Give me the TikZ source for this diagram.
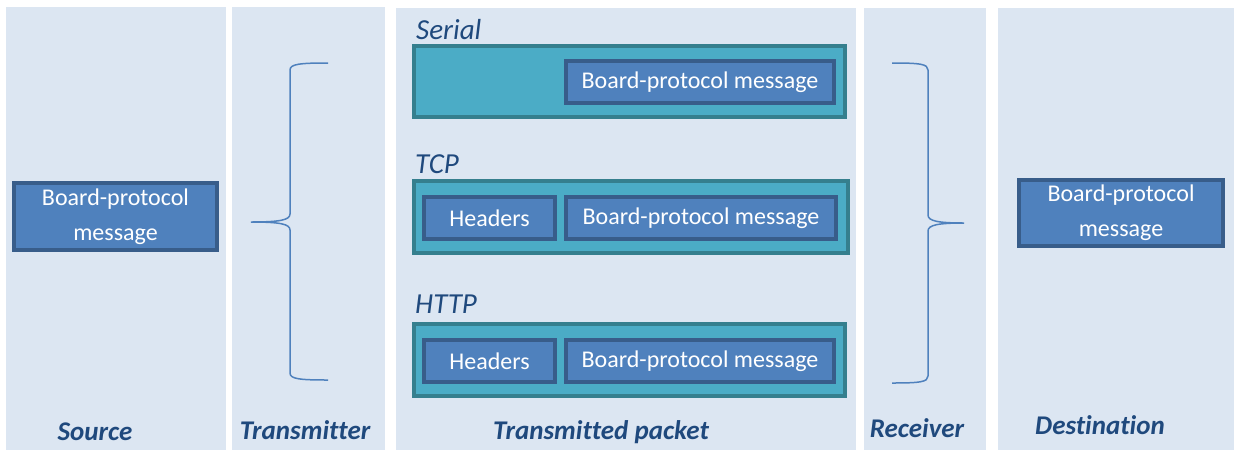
\documentclass[tikz,border=0pt]{standalone}
\usepackage{fontspec}
\setmainfont{Carlito}[Ligatures=NoCommon]
\usepackage{xcolor}
\usetikzlibrary{positioning}

\definecolor{colbg}{HTML}{DCE6F2}
\definecolor{msgfill}{HTML}{4F81BD}
\definecolor{msgline}{HTML}{385D8A}
\definecolor{pktfill}{HTML}{4BACC6}
\definecolor{pktline}{HTML}{357F8E}
\definecolor{lbltext}{HTML}{1F497D}

\tikzset{
  column/.style={fill=colbg, draw=none},
  msgbox/.style={draw=msgline, fill=msgfill, line width=4pt, inner sep=0pt,
    text=white, align=center, font=\fontsize{24}{35}\selectfont},
  pktbox/.style={draw=pktline, fill=pktfill, line width=4pt, inner sep=0pt},
  stagelbl/.style={text=lbltext, font=\fontsize{27}{30}\selectfont\bfseries\itshape, inner sep=0pt},
  protolbl/.style={text=lbltext, font=\fontsize{29}{31}\selectfont\itshape, inner sep=0pt, anchor=west},
  brace/.style={draw=msgfill, line width=1.5pt}
}

\begin{document}
\begin{tikzpicture}[x=1pt,y=1pt,yscale=-1]
        % page
        \fill[white] (0,0) rectangle (1234,451);
        \useasboundingbox (0,0) rectangle (1234,451);
        
        % columns
        \path[column] (6,7) rectangle (226,450);
        \path[column] (232,7) rectangle (385,450);
        \path[column] (396,8) rectangle (856,450);
        \path[column] (864,8) rectangle (986,450);
        \path[column] (998,8) rectangle (1234,450);
        
        % source and destination
        \node[msgbox, minimum width=203pt, minimum height=67pt] (srcmsg) at (115.5,216.5) {Board-protocol\\message};
        \node[msgbox, minimum width=204pt, minimum height=66pt] (dstmsg) at (1121,213) {Board-protocol\\message};
        
        % serial packet
        \node[protolbl] (seriallbl) at (416,30) {Serial};
        \node[pktbox, minimum width=431pt, minimum height=71pt] (serialpkt) at (629.5,81.5) {};
        \node[msgbox, minimum width=268pt, minimum height=42pt] (serialmsg) at (700,82) {Board-protocol message};
        
        % tcp packet
        \node[protolbl] (tcplbl) at (415,164) {TCP};
        \node[pktbox, minimum width=434pt, minimum height=72pt] (tcppkt) at (631,217) {};
        \node[msgbox, minimum width=131pt, minimum height=42pt] (tcphdr) at (489.5,218) {Headers};
        \node[msgbox, minimum width=270pt, minimum height=42pt] (tcpmsg) at (701,218) {Board-protocol message};
        
        % http packet
        \node[protolbl] (httplbl) at (415,304) {HTTP};
        \node[pktbox, minimum width=431pt, minimum height=72pt] (httppkt) at (629.5,360) {};
        \node[msgbox, minimum width=131pt, minimum height=42pt] (httphdr) at (489.5,361) {Headers};
        \node[msgbox, minimum width=268pt, minimum height=42pt] (httpmsg) at (700,361) {Board-protocol message};
        
        % braces
        \draw[brace] (328,63) .. controls (300,63) and (290,64) .. (290,70) -- (290,214) .. controls (290,220) and (280,222) .. (251,222) .. controls (280,222) and (290,224) .. (290,230) -- (290,373) .. controls (290,379) and (300,380) .. (328,380);
        \draw[brace] (892,63) .. controls (920,63) and (928,64) .. (928,70) -- (928,215) .. controls (928,221) and (938,223) .. (964,223) .. controls (938,223) and (928,225) .. (928,231) -- (928,376) .. controls (928,382) and (920,383) .. (892,383);
        
        % stage labels
        \node[stagelbl] (srclbl) at (95,432) {Source};
        \node[stagelbl] (txlbl) at (305,430) {Transmitter};
        \node[stagelbl] (pktlbl) at (601,432) {Transmitted packet};
        \node[stagelbl] (rxlbl) at (917,428) {Receiver};
        \node[stagelbl] (dstlbl) at (1100,425) {Destination};
        
\end{tikzpicture}
\end{document}
